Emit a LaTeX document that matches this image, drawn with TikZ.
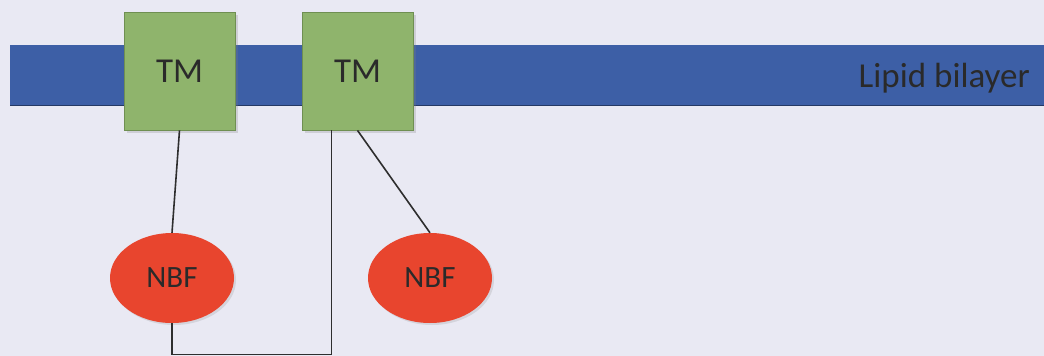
\documentclass[tikz,border=0pt]{standalone}
\usepackage{fontspec}
\setmainfont{Carlito}
\usetikzlibrary{shapes.geometric,shadows}
\definecolor{bgcol}{HTML}{E9E9F3}
\definecolor{barblue}{HTML}{3D5FA6}
\definecolor{tmgreen}{HTML}{8FB46C}
\definecolor{tmedge}{HTML}{6F8F52}
\definecolor{nbfred}{HTML}{E8452E}
\definecolor{txt}{HTML}{2A2A2A}
\definecolor{wire}{HTML}{2E2E2E}
\tikzset{
  tmbox/.style={rectangle, fill=tmgreen, draw=tmedge, line width=0.8pt,
    minimum width=111pt, minimum height=118pt, inner sep=0pt,
    text=txt, font=\fontsize{35}{35}\selectfont,
    drop shadow={opacity=0.25, shadow xshift=3pt, shadow yshift=-3pt}},
  nbfell/.style={ellipse, fill=nbfred, draw=none,
    minimum width=124pt, minimum height=90pt, inner sep=0pt,
    text=txt, font=\fontsize{31}{31}\selectfont,
    drop shadow={opacity=0.2, shadow xshift=2pt, shadow yshift=-2pt}},
  wireline/.style={draw=wire, line width=1.6pt},
  bartext/.style={text=txt, font=\fontsize{35}{35}\selectfont, inner sep=0pt, anchor=east}
}
\begin{document}
\begin{tikzpicture}[x=1pt,y=-1pt]
  \fill[bgcol] (0,0) rectangle (1044,356);
  \useasboundingbox (0,0) rectangle (1044,356);
  % lipid bilayer
  \fill[barblue] (10,45) rectangle (1044,105);
  \draw[barblue!60!black, line width=0.8pt] (10,105) -- (1044,105);
  \node[bartext] (lipid) at (1030,78) {Lipid bilayer};
  % proteins
  \node[tmbox] (TM1) at (179.5,71) {TM};
  \node[tmbox] (TM2) at (357.5,71) {TM};
  \node[nbfell] (NBF1) at (172,278) {NBF};
  \node[nbfell] (NBF2) at (430,278) {NBF};
  % connectors
  \draw[wireline] (TM1.south) -- (NBF1.north);
  \draw[wireline] (TM2.south) -- (NBF2.north);
  \draw[wireline] ([xshift=-26pt]TM2.south) -- ++(0,224) -| (NBF1.south);
\end{tikzpicture}
\end{document}
